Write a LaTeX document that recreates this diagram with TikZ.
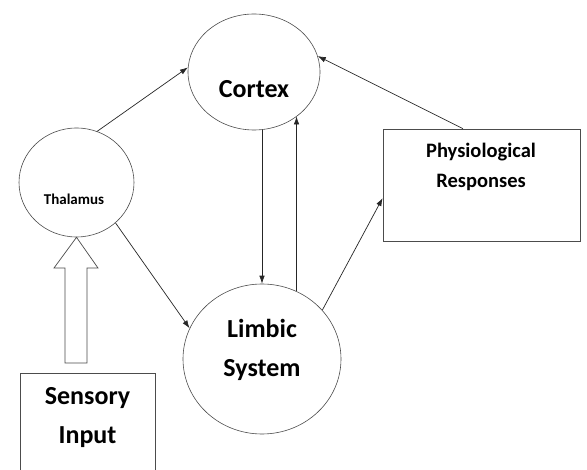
\documentclass[tikz,border=0pt]{standalone}
\usepackage{fontspec}
\setmainfont{Carlito}
\usetikzlibrary{shapes.geometric,arrows.meta}
\tikzset{
	blob/.style={ellipse,draw=black!70,line width=0.6pt,inner sep=0pt},
	panel/.style={rectangle,draw=black!70,line width=0.7pt,inner sep=0pt},
	word/.style={font=\bfseries,align=center,inner sep=0pt},
	link/.style={-{Latex[length=8pt,width=5.5pt]},draw=black!85,line width=0.7pt}
}
\begin{document}
	\begin{tikzpicture}[x=1pt,y=-1pt]
		\useasboundingbox[fill=white] (0,0) rectangle (587,470);
		\node[blob,minimum width=132pt,minimum height=116pt] (cortex) at (254,72) {};
		\node[blob,minimum width=115pt,minimum height=109pt] (thal) at (76.5,182.5) {};
		\node[blob,minimum width=158pt,minimum height=150pt] (limbic) at (262,359) {};
		\node[panel,minimum width=197pt,minimum height=112pt] (physio) at (481.5,185) {};
		\node[panel,minimum width=135pt,minimum height=120pt] (sensory) at (87.5,433) {};
		\node[word,font=\bfseries\fontsize{26}{39}\selectfont] (cortextxt) at (254,89) {Cortex};
		\node[word,font=\bfseries\fontsize{15}{18}\selectfont] (thaltxt) at (74,199) {Thalamus};
		\node[word,font=\bfseries\fontsize{26}{39}\selectfont] (limbictxt) at (262,350) {Limbic\\ System};
		\node[word,font=\bfseries\fontsize{20.5}{30}\selectfont] (physiotxt) at (481,167) {Physiological\\ Responses};
		\node[word,font=\bfseries\fontsize{26}{39}\selectfont] (sensorytxt) at (87.5,417.5) {Sensory\\ Input};
		\draw[draw=black!70,line width=0.7pt] (65,363) -- (65,268) -- (54,268) -- (thal.south) -- (98,268) -- (87,268) -- (87,363) -- cycle;
		\draw[link] (thal.68) -- (cortex.176);
		\draw[link] (thal.-46) -- (limbic.157);
		\draw[link] (cortex.south -| limbic.north) -- (limbic.north);
		\draw[link] (limbic.63.3) -- (limbic.63.3 |- cortex.-46.8);
		\draw[link] (limbic.39.7) -- ([yshift=-13pt]physio.west);
		\draw[link] ([xshift=-18.5pt]physio.north) -- (cortex.14);
	\end{tikzpicture}
\end{document}
